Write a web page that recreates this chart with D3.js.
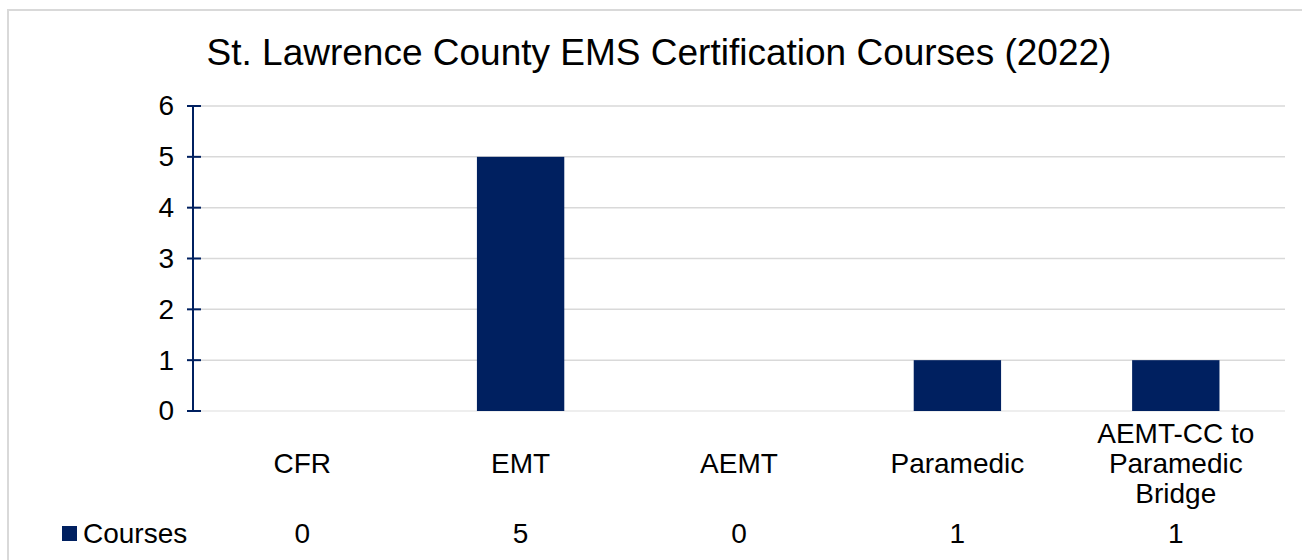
<!DOCTYPE html>
<html>
<head>
<meta charset="utf-8">
<script src="https://cdn.jsdelivr.net/npm/d3@7"></script>
<style>
  body { margin: 0; background: #fff; }
  svg { display: block; font-family: "Liberation Sans", Arial, sans-serif; }
</style>
</head>
<body>
<script>
// chart data
var categories = ["CFR", "EMT", "AEMT", "Paramedic", "AEMT-CC to Paramedic Bridge"];
var courses = [0, 5, 0, 1, 1];
var yTicks = [0, 1, 2, 3, 4, 5, 6];
var seriesName = "Courses";
var title = "St. Lawrence County EMS Certification Courses (2022)";

// label lines for the category axis
var catLines = [["CFR"], ["EMT"], ["AEMT"], ["Paramedic"], ["AEMT-CC to", "Paramedic", "Bridge"]];

var svgWidth = 1302;
var svgHeight = 560;
var navy = "#002060";
var grid = "#d9d9d9";
var fontSize = "28px";

var svg = d3.select("body")
    .append("svg")
    .attr("width", svgWidth)
    .attr("height", svgHeight);

// chart border
svg.append("rect")
    .attr("x", 8)
    .attr("y", 10)
    .attr("width", svgWidth)
    .attr("height", svgHeight)
    .style("fill", "none")
    .style("stroke", grid)
    .style("stroke-width", 2);

// title
svg.append("text")
    .attr("x", 659)
    .attr("y", 65)
    .attr("text-anchor", "middle")
    .style("font-size", "37px")
    .style("fill", "#000")
    .text(title);

var x = d3.scaleBand()
    .domain(categories)
    .range([193, 1285]);

var y = d3.scaleLinear()
    .domain([0, 6])
    .range([411, 106]);

// gridlines
svg.append("g")
    .selectAll("line")
    .data(yTicks)
    .enter()
    .append("line")
    .attr("x1", 193)
    .attr("x2", 1285)
    .attr("y1", function(d) { return y(d); })
    .attr("y2", function(d) { return y(d); })
    .style("stroke", function(d) { return d == 0 ? "#e8e8e8" : grid; })
    .style("stroke-width", 1.5);

// bars, 40% of the band
var barW = x.bandwidth() * 0.4;
svg.append("g")
    .selectAll("rect")
    .data(courses)
    .enter()
    .append("rect")
    .attr("x", function(d, i) { return x(categories[i]) + (x.bandwidth() - barW) / 2; })
    .attr("width", barW)
    .attr("y", function(d) { return y(d); })
    .attr("height", function(d) { return y(0) - y(d); })
    .style("fill", navy);

// y axis
var yAxis = svg.append("g")
    .attr("transform", "translate(193,0)")
    .call(d3.axisLeft(y).tickValues(yTicks).tickFormat(d3.format("d")).tickSize(0).tickPadding(19));
yAxis.select(".domain").remove();
yAxis.selectAll("text")
    .style("font-size", fontSize)
    .style("font-family", "Liberation Sans, Arial, sans-serif")
    .style("fill", "#000");

svg.append("line")
    .attr("x1", 193).attr("x2", 193)
    .attr("y1", y(6)).attr("y2", y(0))
    .style("stroke", navy)
    .style("stroke-width", 2);

svg.append("g")
    .selectAll("line")
    .data(yTicks)
    .enter()
    .append("line")
    .attr("x1", 187).attr("x2", 201)
    .attr("y1", function(d) { return y(d); })
    .attr("y2", function(d) { return y(d); })
    .style("stroke", navy)
    .style("stroke-width", 2);

// category labels
var catG = svg.append("g")
    .selectAll("text")
    .data(catLines)
    .enter()
    .append("text")
    .attr("text-anchor", "middle")
    .style("font-size", fontSize)
    .style("fill", "#000")
    .attr("x", function(d, i) { return x(categories[i]) + x.bandwidth() / 2; })
    .attr("y", function(d) { return 473 - (d.length - 1) * 15; });

catG.selectAll("tspan")
    .data(function(d) { return d; })
    .enter()
    .append("tspan")
    .attr("x", function() { return d3.select(this.parentNode).attr("x"); })
    .attr("dy", function(d, i) { return i == 0 ? 0 : 30; })
    .text(function(d) { return d; });

// data table row
svg.append("rect")
    .attr("x", 62)
    .attr("y", 526)
    .attr("width", 15)
    .attr("height", 15)
    .style("fill", navy);

svg.append("text")
    .attr("x", 83)
    .attr("y", 543)
    .style("font-size", fontSize)
    .style("fill", "#000")
    .text(seriesName);

svg.append("g")
    .selectAll("text")
    .data(courses)
    .enter()
    .append("text")
    .attr("text-anchor", "middle")
    .attr("x", function(d, i) { return x(categories[i]) + x.bandwidth() / 2; })
    .attr("y", 543)
    .style("font-size", fontSize)
    .style("fill", "#000")
    .text(function(d) { return d; });
</script>
</body>
</html>
